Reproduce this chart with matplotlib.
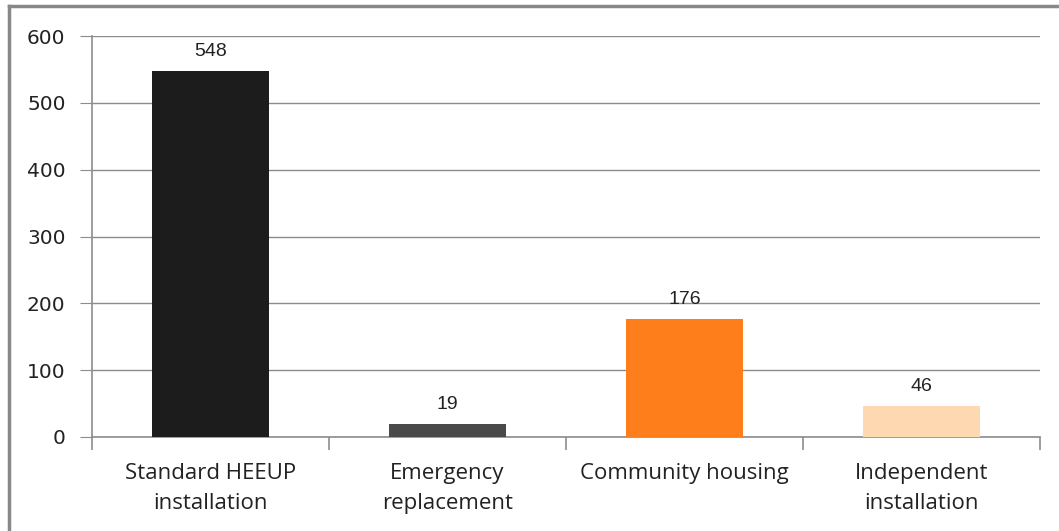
import matplotlib.pyplot as plt
from matplotlib.lines import Line2D

categories = ["Standard HEEUP\ninstallation", "Emergency\nreplacement",
              "Community housing", "Independent\ninstallation"]
values = [548, 19, 176, 46]
colors = ["#1c1c1c", "#4a4a4a", "#fd7e1b", "#fed8b1"]
yticks = [0, 100, 200, 300, 400, 500, 600]

fig = plt.figure(figsize=(10.59, 5.31), dpi=100)
ax = fig.add_axes([92/1059, 94/531, (1040-92)/1059, (437-36)/531])

x = range(len(values))
ax.bar(x, values, width=0.49, color=colors, zorder=3)

for i, v in enumerate(values):
    ax.annotate(str(v), (i, v), xytext=(0, 8), textcoords="offset points",
                ha="center", va="bottom", fontsize=14, family="Liberation Sans",
                color="#222222")

ax.set_xlim(-0.5, len(values) - 0.5)
ax.set_ylim(0, 600)
ax.set_yticks(yticks)
ax.set_yticklabels([str(t) for t in yticks], fontsize=14.5, color="#222222")
ax.yaxis.grid(True, color="#8c8c8c", linewidth=1.0, zorder=0)
ax.tick_params(axis="y", length=9, color="#8c8c8c", pad=10)

# category labels centred, tick marks at boundaries
ax.set_xticks([i - 0.5 for i in range(len(values) + 1)])
ax.set_xticklabels([])
ax.tick_params(axis="x", length=9, color="#8c8c8c", width=1.2)
ax.set_xticks(list(x), minor=True)
ax.set_xticklabels(categories, minor=True, fontsize=16, family="Open Sans",
                   color="#222222", linespacing=1.55)
ax.tick_params(axis="x", which="minor", length=0, pad=19)

for s in ["top", "right"]:
    ax.spines[s].set_visible(False)
ax.spines["left"].set_color("#8c8c8c")
ax.spines["bottom"].set_color("#8c8c8c")
ax.spines["left"].set_linewidth(1.2)
ax.spines["bottom"].set_linewidth(1.2)

# outer frame (top and left only visible)
fig.add_artist(Line2D([9/1059, 1], [1 - 6/531, 1 - 6/531], color="#888888", linewidth=2.5))
fig.add_artist(Line2D([9/1059, 9/1059], [0, 1 - 6/531], color="#888888", linewidth=2.5))

fig.savefig("out.png", dpi=100)
